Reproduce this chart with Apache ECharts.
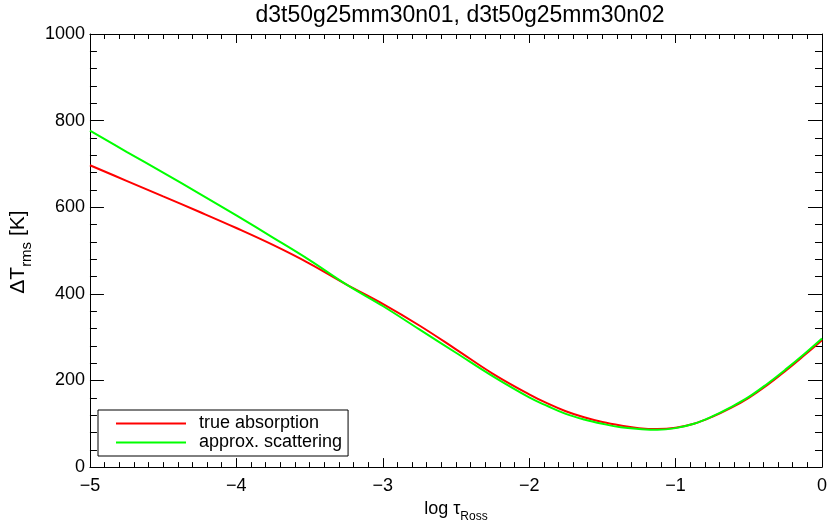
<!DOCTYPE html>
<html>
<head>
<meta charset="utf-8">
<script src="https://cdn.jsdelivr.net/npm/echarts@6/dist/echarts.min.js"></script>
<style>
  html, body { margin: 0; padding: 0; background: #fff; }
  #chart { width: 830px; height: 528px; }
</style>
</head>
<body>
<div id="chart"></div>
<script>
const titleText = 'd3t50g25mm30n01, d3t50g25mm30n02';
const seriesNames = ['true absorption', 'approx. scattering'];
const logTau = [-5, -4.75, -4.5, -4.25, -4, -3.75, -3.5, -3.25, -3, -2.75, -2.5, -2.25,
  -2, -1.875, -1.75, -1.625, -1.5, -1.375, -1.25, -1.125, -1, -0.875, -0.75, -0.625, -0.5, -0.375, -0.25, -0.125, 0];
const trueAbsorption = [697, 661, 625, 589, 552, 513, 470, 422, 377, 327, 272, 216,
  168, 147, 129, 115, 104, 96, 90, 88, 91, 100, 116, 136, 160, 189, 222, 257, 293];
const approxScattering = [777, 728, 680, 631, 581, 530, 478, 422, 372, 318, 264, 210,
  161, 141, 123, 110, 100, 92, 88, 86, 90, 100, 117, 138, 162, 192, 225, 260, 297];
const xTicks = [-5, -4, -3, -2, -1, 0];
const yTicks = [0, 200, 400, 600, 800, 1000];

const FONT = 'Liberation Sans, Arial, Helvetica, sans-serif';
const fmtX = v => String(v).replace('-', '\u2212');
const fmtY = v => String(v);

const chart = echarts.init(document.getElementById('chart'), null, { renderer: 'canvas' });

function xAx(pos, labels, tickLen, minorLen) {
  return {
    type: 'value', position: pos, min: xTicks[0], max: xTicks[xTicks.length - 1], interval: 1,
    axisLine: { show: true, onZero: false, lineStyle: { color: '#000', width: 1 } },
    axisTick: { show: true, inside: true, length: tickLen, lineStyle: { color: '#000' } },
    minorTick: { show: true, splitNumber: 10, length: minorLen, lineStyle: { color: '#000' } },
    splitLine: { show: false },
    axisLabel: { show: labels, formatter: fmtX, fontSize: 18, color: '#000', fontFamily: FONT, margin: 10 }
  };
}
function yAx(pos, labels) {
  return {
    type: 'value', position: pos, min: yTicks[0], max: yTicks[yTicks.length - 1], interval: 200,
    axisLine: { show: true, onZero: false, lineStyle: { color: '#000', width: 1 } },
    axisTick: { show: true, inside: true, length: 14, lineStyle: { color: '#000' } },
    minorTick: { show: true, splitNumber: 5, length: 7, lineStyle: { color: '#000' } },
    splitLine: { show: false },
    axisLabel: { show: labels, formatter: fmtY, fontSize: 18, color: '#000', fontFamily: FONT, margin: 5 }
  };
}

const xBottom = xAx('bottom', true, 9, 5);
xBottom.name = '{a|log τ}{b|Ross}';
xBottom.nameLocation = 'middle';
xBottom.nameGap = 27;
xBottom.nameTextStyle = {
  rich: {
    a: { fontSize: 18, color: '#000', fontFamily: FONT, verticalAlign: 'bottom', lineHeight: 20 },
    b: { fontSize: 12, color: '#000', fontFamily: FONT, verticalAlign: 'bottom', lineHeight: 14, padding: [0, 0, -5, 0] }
  }
};
const xTop = xAx('top', false, 9, 5);

const yLeft = yAx('left', true);
yLeft.name = '{a|ΔT}{b|rms}{a| [K]}';
yLeft.nameLocation = 'middle';
yLeft.nameGap = 54;
yLeft.nameRotate = 90;
yLeft.nameTextStyle = {
  padding: [0, 0, 0, -3],
  rich: {
    a: { fontSize: 21, color: '#000', fontFamily: FONT, verticalAlign: 'bottom', lineHeight: 23 },
    b: { fontSize: 15, color: '#000', fontFamily: FONT, verticalAlign: 'bottom', lineHeight: 17, padding: [0, 0, -5, 0] }
  }
};
const yRight = yAx('right', false);

const option = {
  animation: false,
  backgroundColor: '#fff',
  title: {
    text: titleText, left: 455, top: -1, textAlign: 'center',
    textStyle: { fontSize: 23, fontWeight: 'normal', color: '#000', fontFamily: FONT }
  },
  grid: { left: 86, right: 6, top: 34, bottom: 53, containLabel: false },
  legend: {
    data: seriesNames, orient: 'vertical', left: 98, top: 410,
    icon: 'rect', itemWidth: 70, itemHeight: 2, itemGap: 0,
    backgroundColor: '#fff', borderColor: '#000', borderWidth: 1,
    padding: [4, 6, 4, 18],
    textStyle: { fontSize: 18, color: '#000', fontFamily: FONT, lineHeight: 19, padding: [0, 0, 0, 8] }
  },
  xAxis: [xBottom, xTop],
  yAxis: [yLeft, yRight],
  series: [
    {
      name: seriesNames[0], type: 'line', xAxisIndex: 0, yAxisIndex: 0,
      data: logTau.map((x, i) => [x, trueAbsorption[i]]),
      smooth: 0.4, showSymbol: false, symbol: 'none',
      lineStyle: { color: '#ff0000', width: 2 }, itemStyle: { color: '#ff0000' }
    },
    {
      name: seriesNames[1], type: 'line', xAxisIndex: 0, yAxisIndex: 0,
      data: logTau.map((x, i) => [x, approxScattering[i]]),
      smooth: 0.4, showSymbol: false, symbol: 'none',
      lineStyle: { color: '#00ff00', width: 2 }, itemStyle: { color: '#00ff00' }
    }
  ]
};
chart.setOption(option);
</script>
</body>
</html>
